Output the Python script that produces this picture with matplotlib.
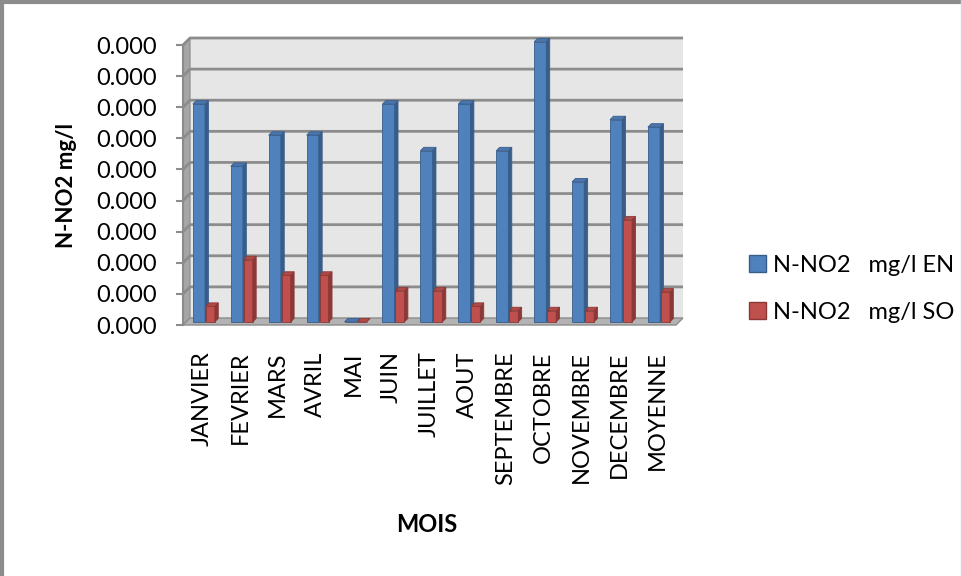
import matplotlib.pyplot as plt
from matplotlib.patches import Polygon, Patch
from matplotlib.ticker import FormatStrFormatter, MultipleLocator

plt.rcParams['font.family'] = ['Lato', 'DejaVu Sans']

mois = ['JANVIER', 'FEVRIER', 'MARS', 'AVRIL', 'MAI', 'JUIN', 'JUILLET',
        'AOUT', 'SEPTEMBRE', 'OCTOBRE', 'NOVEMBRE', 'DECEMBRE', 'MOYENNE']
no2_en = [0.00035, 0.00025, 0.00030, 0.00030, 0.0, 0.00035, 0.000275,
          0.00035, 0.000275, 0.00045, 0.000225, 0.000325, 0.000313]
no2_so = [0.000025, 0.00010, 0.000075, 0.000075, 0.0, 0.00005, 0.00005,
          0.000025, 0.000018, 0.000018, 0.000018, 0.000164, 0.000048]
labels = ['N-NO2   mg/l EN', 'N-NO2   mg/l SO']

step = 0.00005
ymax = 9 * step
n = len(mois)

# depth offsets for the pseudo-3D wall and the bars
dx, dy = 0.185, 0.225 * step
sdx, sdy = 0.09, 0.11 * step
base = 0.45 * dy

fig = plt.figure(figsize=(9.61, 5.76), dpi=100)
ax = fig.add_axes([183 / 961, 1 - 325 / 576, 493 / 961, 280 / 576])
ax.set_xlim(0, n)
ax.set_ylim(0, ymax)

# back wall, side wall and floor
ax.add_patch(Polygon([(dx, dy), (n + dx, dy), (n + dx, ymax + dy), (dx, ymax + dy)],
                     closed=True, fc='#e6e6e6', ec='none', clip_on=False, zorder=0))
ax.add_patch(Polygon([(0, 0), (dx, dy), (dx, ymax + dy), (0, ymax)],
                     closed=True, fc='#a6a6a6', ec='#8c8c8c', lw=0.8, clip_on=False, zorder=1))
ax.add_patch(Polygon([(0, 0), (n, 0), (n + dx, dy), (dx, dy)],
                     closed=True, fc='#b3b3b3', ec='#8c8c8c', lw=1, clip_on=False, zorder=1))
for k in range(1, 10):
    t = k * step
    ax.plot([0, dx, n + dx], [t, t + dy, t + dy], color='#8c8c8c', lw=2,
            clip_on=False, zorder=1, solid_capstyle='butt')


def bar3d(x0, w, h, front, side, top):
    x1 = x0 + w
    y1 = base + h
    ax.add_patch(Polygon([(x0, base), (x1, base), (x1, y1), (x0, y1)], closed=True,
                         fc=front, ec=side, lw=0.6, clip_on=False, zorder=3))
    ax.add_patch(Polygon([(x1, base), (x1 + sdx, base + sdy), (x1 + sdx, y1 + sdy), (x1, y1)],
                         closed=True, fc=side, ec=side, lw=0.6, clip_on=False, zorder=3))
    ax.add_patch(Polygon([(x0, y1), (x0 + sdx, y1 + sdy), (x1 + sdx, y1 + sdy), (x1, y1)],
                         closed=True, fc=top, ec=side, lw=0.6, clip_on=False, zorder=3))


for i in range(n):
    bar3d(i + 0.26, 0.32, no2_en[i], '#4f81bd', '#385d8a', '#4a76ad')
    bar3d(i + 0.60, 0.24, no2_so[i], '#c0504d', '#8c3836', '#b04a47')

for s in ['top', 'right', 'bottom']:
    ax.spines[s].set_visible(False)
ax.spines['left'].set_color('#8c8c8c')
ax.spines['left'].set_linewidth(1.5)
ax.patch.set_visible(False)

ax.yaxis.set_major_locator(MultipleLocator(step))
ax.yaxis.set_major_formatter(FormatStrFormatter('%.3f'))
ax.tick_params(axis='y', length=5, width=1.5, color='#8c8c8c', pad=13.5, labelsize=17)
ax.set_xticks([i + 0.5 for i in range(n)])
ax.set_xticklabels(mois, rotation=90, fontsize=17)
ax.tick_params(axis='x', length=0, pad=19)

ax.set_ylabel('N-NO2 mg/l', fontsize=16, fontweight='bold')
ax.yaxis.set_label_coords(-0.215, 0.5)
fig.text(427 / 961, 1 - 525 / 576, 'MOIS', fontsize=17, fontweight='bold',
         ha='center', va='center')

handles = [Patch(fc='#4f81bd', ec='#385d8a'), Patch(fc='#c0504d', ec='#8c3836')]
fig.legend(handles, labels, loc='center left', bbox_to_anchor=(728 / 961, 1 - 289 / 576),
           frameon=False, fontsize=17, handlelength=0.7, handleheight=0.7,
           handletextpad=0.3, labelspacing=1.1)

# chart frame
fig.add_artist(plt.Line2D([0.002, 0.002], [0, 1], color='#8c8c8c', lw=3))
fig.add_artist(plt.Line2D([0, 1], [0.997, 0.997], color='#8c8c8c', lw=3))
fig.add_artist(plt.Line2D([0.9995, 0.9995], [0, 1], color='#e0e0e0', lw=1))

fig.savefig('out.png', dpi=100)
